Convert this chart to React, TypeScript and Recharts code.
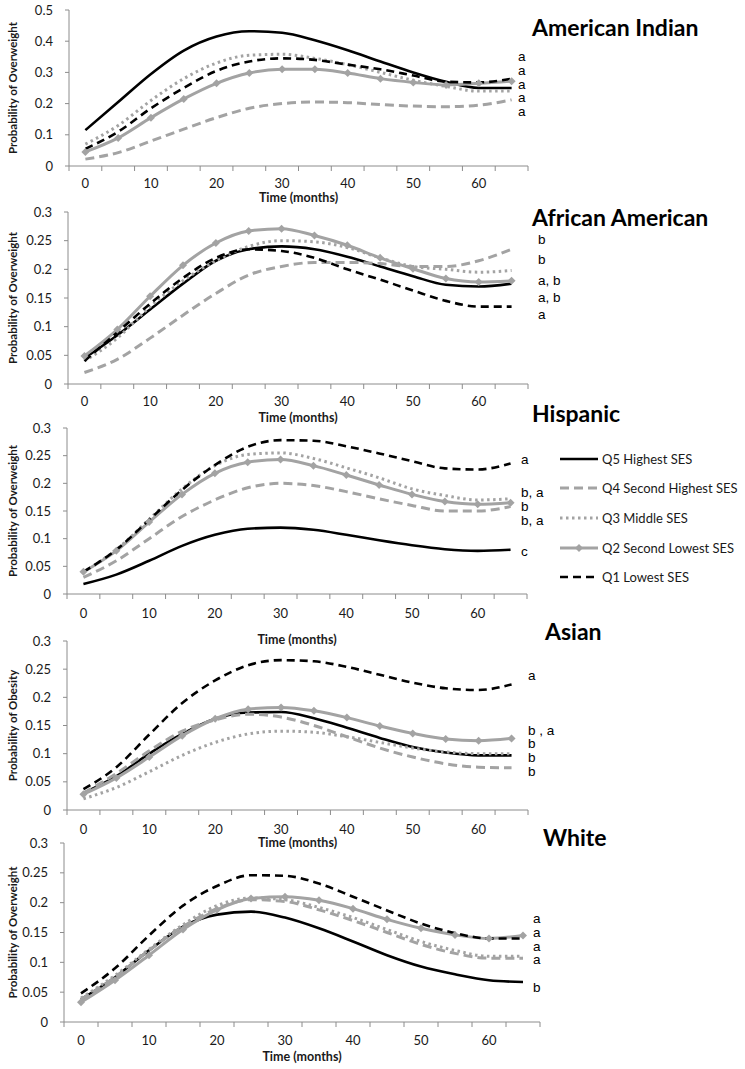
import React from "react";
import { LineChart, Line, XAxis, YAxis } from "recharts";

// months on the x axis (one category every 5 months)
const months = [0, 5, 10, 15, 20, 25, 30, 35, 40, 45, 50, 55, 60, 65];
const xLabelTicks = [0, 10, 20, 30, 40, 50, 60];
const xBoundaryTicks = [-2.5, 2.5, 7.5, 12.5, 17.5, 22.5, 27.5, 32.5, 37.5, 42.5, 47.5, 52.5, 57.5, 62.5, 67.5];

const yTicksWide = [0, 0.1, 0.2, 0.3, 0.4, 0.5];
const yTicksNarrow = [0, 0.05, 0.1, 0.15, 0.2, 0.25, 0.3];

const seriesKeys = ["q5", "q4", "q3", "q2", "q1"];
const seriesNames = [
  "Q5 Highest SES",
  "Q4 Second Highest SES",
  "Q3 Middle SES",
  "Q2 Second Lowest SES",
  "Q1 Lowest SES",
];

// American Indian
const amIndQ5 = [0.115, 0.205, 0.295, 0.37, 0.415, 0.432, 0.427, 0.403, 0.371, 0.335, 0.3, 0.27, 0.25, 0.25];
const amIndQ4 = [0.022, 0.043, 0.08, 0.118, 0.155, 0.185, 0.2, 0.205, 0.203, 0.197, 0.192, 0.19, 0.195, 0.212];
const amIndQ3 = [0.07, 0.13, 0.21, 0.28, 0.33, 0.355, 0.358, 0.345, 0.325, 0.3, 0.275, 0.255, 0.24, 0.24];
const amIndQ2 = [0.045, 0.09, 0.155, 0.215, 0.265, 0.298, 0.31, 0.31, 0.298, 0.28, 0.268, 0.26, 0.265, 0.272];
const amIndQ1 = [0.055, 0.11, 0.185, 0.25, 0.305, 0.335, 0.345, 0.34, 0.325, 0.31, 0.29, 0.27, 0.268, 0.28];

// African American
const afAmQ5 = [0.045, 0.085, 0.13, 0.175, 0.215, 0.235, 0.24, 0.235, 0.222, 0.205, 0.188, 0.173, 0.17, 0.175];
const afAmQ4 = [0.02, 0.043, 0.08, 0.12, 0.158, 0.19, 0.205, 0.212, 0.212, 0.21, 0.205, 0.205, 0.215, 0.235];
const afAmQ3 = [0.04, 0.08, 0.135, 0.18, 0.215, 0.24, 0.25, 0.248, 0.238, 0.22, 0.205, 0.2, 0.195, 0.198];
const afAmQ2 = [0.049, 0.095, 0.153, 0.207, 0.246, 0.267, 0.271, 0.259, 0.242, 0.22, 0.201, 0.184, 0.178, 0.18];
const afAmQ1 = [0.04, 0.09, 0.14, 0.185, 0.22, 0.235, 0.232, 0.22, 0.2, 0.182, 0.163, 0.145, 0.135, 0.135];

// Hispanic
const hispQ5 = [0.018, 0.035, 0.06, 0.087, 0.107, 0.118, 0.12, 0.116, 0.107, 0.097, 0.088, 0.081, 0.078, 0.08];
const hispQ4 = [0.03, 0.06, 0.1, 0.14, 0.17, 0.192, 0.2, 0.196, 0.185, 0.172, 0.16, 0.15, 0.15, 0.158];
const hispQ3 = [0.04, 0.08, 0.135, 0.19, 0.232, 0.252, 0.255, 0.245, 0.228, 0.21, 0.19, 0.178, 0.17, 0.172];
const hispQ2 = [0.04, 0.078, 0.13, 0.18, 0.218, 0.238, 0.243, 0.232, 0.215, 0.197, 0.18, 0.167, 0.162, 0.165];
const hispQ1 = [0.04, 0.08, 0.134, 0.188, 0.233, 0.266, 0.278, 0.277, 0.267, 0.254, 0.24, 0.227, 0.225, 0.236];

// Asian
const asianQ5 = [0.03, 0.06, 0.1, 0.135, 0.162, 0.173, 0.174, 0.163, 0.146, 0.128, 0.112, 0.102, 0.097, 0.097];
const asianQ4 = [0.03, 0.065, 0.105, 0.14, 0.16, 0.17, 0.165, 0.15, 0.13, 0.11, 0.094, 0.082, 0.076, 0.075];
const asianQ3 = [0.02, 0.04, 0.068, 0.097, 0.12, 0.135, 0.14, 0.138, 0.13, 0.12, 0.11, 0.103, 0.1, 0.1];
const asianQ2 = [0.028, 0.057, 0.094, 0.132, 0.162, 0.179, 0.182, 0.176, 0.164, 0.149, 0.136, 0.126, 0.123, 0.127];
const asianQ1 = [0.037, 0.076, 0.134, 0.19, 0.23, 0.257, 0.266, 0.264, 0.254, 0.24, 0.226, 0.216, 0.213, 0.223];

// White
const whiteQ5 = [0.038, 0.075, 0.12, 0.16, 0.18, 0.185, 0.175, 0.157, 0.135, 0.112, 0.093, 0.08, 0.07, 0.067];
const whiteQ4 = [0.038, 0.075, 0.12, 0.16, 0.19, 0.205, 0.202, 0.188, 0.17, 0.15, 0.13, 0.115, 0.107, 0.107];
const whiteQ3 = [0.04, 0.078, 0.122, 0.163, 0.195, 0.208, 0.205, 0.192, 0.175, 0.155, 0.135, 0.12, 0.11, 0.11];
const whiteQ2 = [0.033, 0.07, 0.112, 0.155, 0.188, 0.207, 0.21, 0.204, 0.19, 0.172, 0.157, 0.146, 0.14, 0.145];
const whiteQ1 = [0.048, 0.09, 0.145, 0.195, 0.228, 0.246, 0.245, 0.232, 0.21, 0.187, 0.165, 0.149, 0.14, 0.14];

const GRAY = "#a3a3a3";
const AXIS = "#8c8c8c";
const FONT = "Lato, 'Open Sans', sans-serif";

const lineStyle: Record<string, any> = {
  q5: { stroke: "#000", width: 2.6 },
  q4: { stroke: GRAY, width: 3, dash: "9 5" },
  q3: { stroke: GRAY, width: 3, dash: "2.5 3.5" },
  q2: { stroke: GRAY, width: 3, diamond: true },
  q1: { stroke: "#000", width: 2.6, dash: "8 5" },
};

const buildRows = (cols: number[][]) =>
  months.map((m, i) => {
    const row: any = { month: m };
    seriesKeys.forEach((k, j) => (row[k] = cols[j][i]));
    return row;
  });

const panels = [
  {
    title: "American Indian",
    yTitle: "Probability of Overweight",
    data: buildRows([amIndQ5, amIndQ4, amIndQ3, amIndQ2, amIndQ1]),
    yMax: 0.5,
    yTicks: yTicksWide,
    plot: { left: 69, right: 528, top: 10, bottom: 166 },
    labelGap: 17,
    titleY: 202,
    heading: { x: 532, y: 27 },
    notes: { x: 518, items: [["a", 57], ["a", 71], ["a", 85], ["a", 98], ["a", 112]] },
  },
  {
    title: "African American",
    yTitle: "Probability of Overweight",
    data: buildRows([afAmQ5, afAmQ4, afAmQ3, afAmQ2, afAmQ1]),
    yMax: 0.3,
    yTicks: yTicksNarrow,
    plot: { left: 68, right: 528, top: 212, bottom: 384 },
    labelGap: 17,
    titleY: 422,
    heading: { x: 532, y: 217 },
    notes: { x: 538, items: [["b", 240], ["b", 260], ["a, b", 281], ["a, b", 298], ["a", 315]] },
  },
  {
    title: "Hispanic",
    yTitle: "Probability of Overweight",
    data: buildRows([hispQ5, hispQ4, hispQ3, hispQ2, hispQ1]),
    yMax: 0.3,
    yTicks: yTicksNarrow,
    plot: { left: 67, right: 527, top: 428, bottom: 594 },
    labelGap: 19,
    titleY: 644,
    heading: { x: 532, y: 413 },
    notes: { x: 521, items: [["a", 460], ["b, a", 493], ["b", 507], ["b, a", 521], ["c", 552]] },
  },
  {
    title: "Asian",
    yTitle: "Probability of Obesity",
    data: buildRows([asianQ5, asianQ4, asianQ3, asianQ2, asianQ1]),
    yMax: 0.3,
    yTicks: yTicksNarrow,
    plot: { left: 67, right: 528, top: 641, bottom: 810 },
    labelGap: 19,
    titleY: 847,
    heading: { x: 545, y: 631 },
    notes: { x: 528, items: [["a", 676], ["b , a", 731], ["b", 744], ["b", 758], ["b", 772]] },
  },
  {
    title: "White",
    yTitle: "Probability of Overweight",
    data: buildRows([whiteQ5, whiteQ4, whiteQ3, whiteQ2, whiteQ1]),
    yMax: 0.3,
    yTicks: yTicksNarrow,
    plot: { left: 64, right: 540, top: 843, bottom: 1022 },
    labelGap: 18,
    titleY: 1061,
    heading: { x: 543, y: 837 },
    notes: { x: 533, items: [["a", 919], ["a", 933], ["a", 947], ["a", 960], ["b", 988]] },
  },
];

const Diamond = (props: any) => {
  const { cx, cy, index } = props;
  if (cx == null || cy == null) return <g key={`d-${index}`} />;
  const r = 4;
  return (
    <path
      key={`d-${index}`}
      d={`M${cx},${cy - r}L${cx + r},${cy}L${cx},${cy + r}L${cx - r},${cy}Z`}
      fill={GRAY}
    />
  );
};

const makeTimeTick = (gap: number) => (props: any) => {
  const { x, y, payload } = props;
  const v = payload.value;
  if (Number.isInteger(v)) {
    return (
      <text x={x} y={y + gap} textAnchor="middle" dominantBaseline="central" fontSize={13} fill="#1a1a1a" fontFamily={FONT}>
        {v}
      </text>
    );
  }
  return <line x1={x} y1={y} x2={x} y2={y + 5} stroke={AXIS} strokeWidth={1} />;
};

// extra room under the axis title so descenders are not clipped
const TITLE_PAD = 6;

function Panel({ p }: { p: any }) {
  const top = p.plot.top - 10;
  const xAxisH = p.titleY - p.plot.bottom + TITLE_PAD;
  const width = p.plot.right + 10;
  const height = 10 + (p.plot.bottom - p.plot.top) + xAxisH;
  return (
    <div style={{ position: "absolute", left: 0, top }}>
      <LineChart width={width} height={height} data={p.data} margin={{ top: 10, right: 10, left: 0, bottom: 0 }}>
        <XAxis
          dataKey="month"
          type="number"
          domain={[-2.5, 67.5]}
          ticks={[...xBoundaryTicks, ...xLabelTicks].sort((a, b) => a - b)}
          interval={0}
          height={xAxisH}
          tickLine={false}
          tickSize={0}
          tickMargin={0}
          tick={makeTimeTick(p.labelGap)}
          axisLine={{ stroke: AXIS }}
          label={{
            value: "Time (months)",
            position: "insideBottom",
            offset: TITLE_PAD,
            style: { fontFamily: FONT, fontWeight: 700, fontSize: 12.5, fill: "#1a1a1a" },
          }}
        />
        <YAxis
          type="number"
          domain={[0, p.yMax]}
          ticks={p.yTicks}
          interval={0}
          width={p.plot.left}
          tickSize={4}
          tickMargin={12}
          tickLine={{ stroke: AXIS }}
          axisLine={{ stroke: AXIS }}
          tick={{ fontSize: 13, fill: "#1a1a1a", fontFamily: FONT }}
          label={{
            value: p.yTitle,
            angle: -90,
            position: "insideLeft",
            offset: 13,
            style: { textAnchor: "middle", fontFamily: FONT, fontWeight: 700, fontSize: 11.5, fill: "#1a1a1a" },
          }}
        />
        {seriesKeys.map((k, idx) => {
          const s = lineStyle[k];
          return (
            <Line
              key={k}
              dataKey={k}
              name={seriesNames[idx]}
              type="monotone"
              stroke={s.stroke}
              strokeWidth={s.width}
              strokeDasharray={s.dash}
              dot={s.diamond ? Diamond : false}
              activeDot={false}
              isAnimationActive={false}
            />
          );
        })}
      </LineChart>
      <div
        style={{
          position: "absolute",
          left: p.heading.x,
          top: p.heading.y - top,
          transform: "translateY(-50%)",
          fontFamily: FONT,
          fontWeight: 700,
          fontSize: 23,
          whiteSpace: "nowrap",
          lineHeight: 1,
        }}
      >
        {p.title}
      </div>
      {p.notes.items.map(([t, y]: [string, number], i: number) => (
        <div
          key={i}
          style={{
            position: "absolute",
            left: p.notes.x,
            top: y - top,
            transform: "translateY(-50%)",
            fontFamily: "'Liberation Sans', Arial, sans-serif",
            fontSize: 13.5,
            lineHeight: 1,
            whiteSpace: "pre",
          }}
        >
          {t}
        </div>
      ))}
    </div>
  );
}

function LegendBox() {
  const rowsY = [459, 488, 518, 548, 577];
  return (
    <div style={{ position: "absolute", left: 0, top: 0 }}>
      {seriesKeys.map((k, i) => {
        const s = lineStyle[k];
        return (
          <div key={k} style={{ position: "absolute", left: 560, top: rowsY[i] - 9, height: 18, display: "flex", alignItems: "center", whiteSpace: "nowrap" }}>
            <svg width={38} height={18}>
              <line x1={0} y1={9} x2={38} y2={9} stroke={s.stroke} strokeWidth={s.width} strokeDasharray={s.dash} />
              {s.diamond ? <path d="M19,5L23,9L19,13L15,9Z" fill={GRAY} /> : null}
            </svg>
            <span style={{ marginLeft: 4, fontFamily: FONT, fontSize: 13, color: "#1a1a1a" }}>{seriesNames[i]}</span>
          </div>
        );
      })}
    </div>
  );
}

export default function App() {
  return (
    <div style={{ position: "absolute", left: 0, top: 0, width: 745, height: 1069, background: "#fff" }}>
      {panels.map((p) => (
        <Panel key={p.title} p={p} />
      ))}
      <LegendBox />
    </div>
  );
}
